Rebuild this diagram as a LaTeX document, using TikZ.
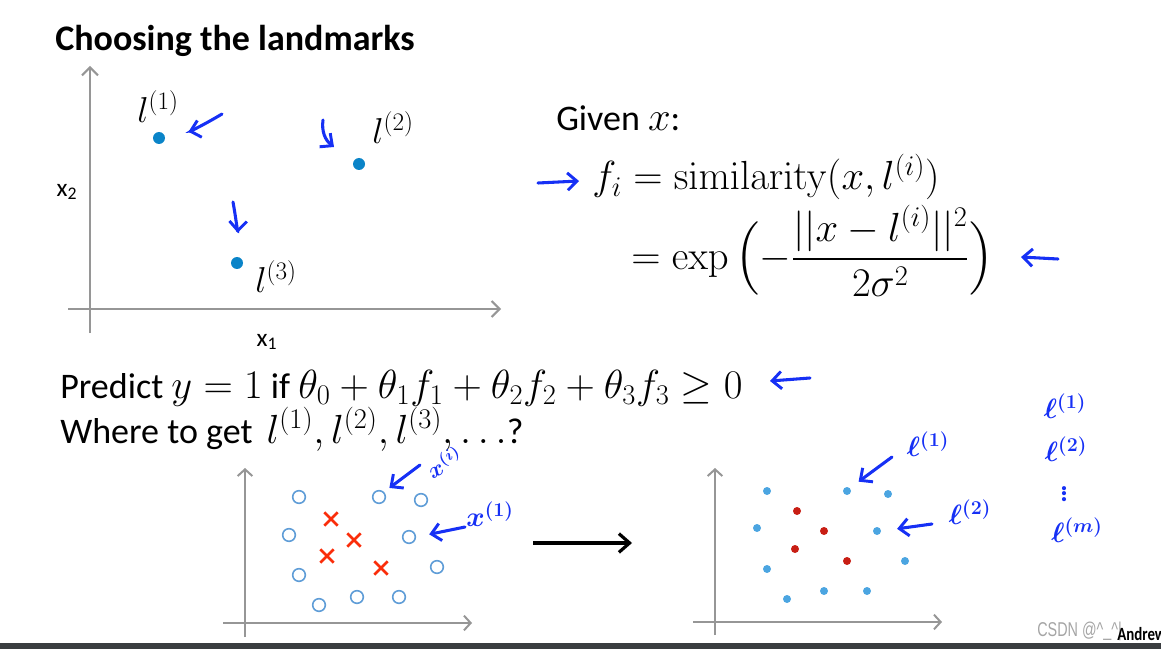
\RequirePackage{fix-cm}
\documentclass[tikz,border=0pt]{standalone}
\usepackage{amsmath, amssymb, bm}
\usepackage[no-math]{fontspec}
\setmainfont{Carlito}
\newfontfamily\wmfont{Liberation Sans}
\usetikzlibrary{arrows.meta, positioning, shapes.misc}
\definecolor{axisgray}{RGB}{150,150,150}
\definecolor{penblue}{RGB}{22,48,245}
\definecolor{markblue}{RGB}{10,132,200}
\definecolor{ringblue}{RGB}{95,157,215}
\definecolor{crossred}{RGB}{250,45,10}
\definecolor{dotblue}{RGB}{75,165,225}
\definecolor{dotred}{RGB}{200,30,20}
\definecolor{bargray}{RGB}{58,61,64}
\definecolor{wmgray}{RGB}{165,165,165}
\newcommand\bigmath[1]{{\fontsize{30.5}{36}\selectfont$#1$}}

\begin{document}
\begin{tikzpicture}[
    x=0.75pt, y=-0.75pt,
    axis/.style={draw=axisgray, line width=1.5pt, -{Straight Barb[length=6pt, width=12pt, line width=1.5pt]}},
    smallaxis/.style={axis, -{Straight Barb[length=5pt, width=11pt, line width=1.5pt]}},
    hand/.style={draw=penblue, line width=2.3pt, line cap=round, -{Straight Barb[length=7pt, width=13pt, line width=2.2pt]}},
    big/.style={font=\fontsize{27}{32}\selectfont, inner sep=0pt},
    ink/.style={text=penblue, font=\fontsize{21}{25}\selectfont\boldmath, inner sep=0pt},
    landmark/.style={circle, fill=markblue, minimum size=9pt, inner sep=0pt},
    ring/.style={circle, draw=ringblue, line width=1.2pt, minimum size=9.5pt, inner sep=0pt},
    xmark/.style={cross out, draw=crossred, line width=2pt, minimum size=8pt, inner sep=0pt},
    bdot/.style={circle, fill=dotblue, minimum size=6pt, inner sep=0pt},
    rdot/.style={circle, fill=dotred, minimum size=6pt, inner sep=0pt}
]
    \useasboundingbox (0,0) rectangle (1161,649);
    \fill[bargray] (0,643) rectangle (1161,649);

    % title
    \node[big, font=\fontsize{27}{32}\selectfont\bfseries, anchor=base west] (title) at (55,51) {Choosing the landmarks};

    % first plot
    \draw[axis] (90,333) -- (90,66);
    \draw[axis] (68,309) -- (501,309);
    \node[font=\fontsize{19}{22}\selectfont] (xtwo) at (67,192) {x\textsubscript{2}};
    \node[font=\fontsize{19}{22}\selectfont] (xone) at (267,342) {x\textsubscript{1}};

    \node[landmark] (m1) at (159,138) {};
    \node[landmark] (m2) at (359,164) {};
    \node[landmark] (m3) at (237,263) {};
    \node[font=\fontsize{27}{32}\selectfont] (lm1) at (158,107) {$l^{(1)}$};
    \node[font=\fontsize{27}{32}\selectfont] (lm2) at (393,128) {$l^{(2)}$};
    \node[font=\fontsize{27}{32}\selectfont] (lm3) at (276,277) {$l^{(3)}$};

    \coordinate (a1s) at (222,114);
    \coordinate (a2s) at (323,120);
    \coordinate (a2e) at (334,147);
    \coordinate (a3s) at (233,202);
    \draw[hand, shorten >=18pt] (a1s) to[bend left=8] (m1.east);
    \draw[hand] (a2s) to[bend right=30] (a2e);
    \draw[hand, shorten >=18pt] (a3s) to[bend left=6] (m3.north);

    % similarity
    \node[big, anchor=base west] (given) at (556,131) {Given \bigmath{x}:};
    \node[big, anchor=base west] (eqsim) at (592,190) {\bigmath{f_i = \mathrm{similarity}(x, l^{(i)})}};
    \node[big, anchor=base west] (eqexp) at (631,269) {\bigmath{\displaystyle = \exp\,\Bigl(-\frac{||x - l^{(i)}||^2}{2\sigma^2}\Bigr)}};
    \coordinate (b1s) at (538,183);
    \coordinate (b1e) at (579,181);
    \coordinate (b2s) at (1058,259);
    \coordinate (b2e) at (1021,257);
    \draw[hand] (b1s) -- (b1e);
    \draw[hand] (b2s) -- (b2e);

    % prediction
    \node[big, anchor=base west] (predict) at (60,398) {Predict \bigmath{y = 1} if \bigmath{\theta_0 + \theta_1 f_1 + \theta_2 f_2 + \theta_3 f_3 \geq 0}};
    \node[big, anchor=base west] (where) at (60,443) {Where to get \,\bigmath{l^{(1)}, l^{(2)}, l^{(3)}, \ldots}?};
    \coordinate (c1s) at (810,378);
    \coordinate (c1e) at (770,381);
    \draw[hand] (c1s) -- (c1e);

    % training examples
    \draw[smallaxis] (245,637) -- (245,468);
    \draw[smallaxis] (223,623) -- (472,623);
    \node[ring] (r1) at (299,497) {};
    \node[ring] (r2) at (379,497) {};
    \node[ring] (r3) at (421,500) {};
    \node[ring] (r4) at (289,535) {};
    \node[ring] (r5) at (409,537) {};
    \node[ring] (r6) at (299,575) {};
    \node[ring] (r7) at (437,567) {};
    \node[ring] (r8) at (319,605) {};
    \node[ring] (r9) at (357,597) {};
    \node[ring] (r10) at (399,597) {};
    \node[xmark] (k1) at (331,519) {};
    \node[xmark] (k2) at (354,540) {};
    \node[xmark] (k3) at (327,556) {};
    \node[xmark] (k4) at (381,568) {};

    \coordinate (d1s) at (420,465);
    \coordinate (d2s) at (465,527);
    \node[ink, font=\fontsize{17}{20}\selectfont\boldmath, rotate=28] (xi) at (444,462) {$\bm{x}^{(i)}$};
    \node[ink] (xfirst) at (490,514) {$\bm{x}^{(1)}$};
    \draw[hand, shorten >=5pt] (d1s) -- (r2.north east);
    \draw[hand, shorten >=10pt] (d2s) -- (r5.east);

    \draw[-{Straight Barb[length=8pt, width=14pt, line width=2.4pt]}, line width=2.6pt] (533,543) -- (632,543);

    % landmarks
    \draw[smallaxis] (715,635) -- (715,468);
    \draw[smallaxis] (693,622) -- (942,622);
    \node[bdot] (q1) at (767,491) {};
    \node[bdot] (q2) at (847,491) {};
    \node[bdot] (q3) at (888,494) {};
    \node[bdot] (q4) at (757,528) {};
    \node[bdot] (q5) at (877,531) {};
    \node[bdot] (q6) at (767,569) {};
    \node[bdot] (q7) at (905,561) {};
    \node[bdot] (q8) at (787,599) {};
    \node[bdot] (q9) at (824,591) {};
    \node[bdot] (q10) at (867,591) {};
    \node[rdot] (p1) at (797,511) {};
    \node[rdot] (p2) at (824,531) {};
    \node[rdot] (p3) at (795,549) {};
    \node[rdot] (p4) at (847,561) {};

    \coordinate (e1s) at (892,457);
    \coordinate (e2s) at (932,524);
    \node[ink] (lfirst) at (928,444) {$\bm{\ell}^{(1)}$};
    \node[ink] (lsecond) at (970,512) {$\bm{\ell}^{(2)}$};
    \draw[hand, shorten >=8pt] (e1s) -- (q2.north east);
    \draw[hand, shorten >=12pt] (e2s) -- (q5.east);

    \node[ink] (list1) at (1065,406) {$\bm{\ell}^{(1)}$};
    \node[ink] (list2) at (1066,449) {$\bm{\ell}^{(2)}$};
    \node[ink] (listdots) at (1064,490) {$\bm{\vdots}$};
    \node[ink] (listm) at (1077,530) {$\bm{\ell}^{(m)}$};

    % watermark
    \node[anchor=base west, text=wmgray, font=\wmfont\fontsize{15}{18}\selectfont, inner sep=0pt] (wm) at (1037,636) {\scalebox{0.72}[1]{CSDN @\^{}\_\^{}|}};
    \node[anchor=base west, font=\fontsize{14}{16}\selectfont\bfseries, inner sep=0pt] (author) at (1117,640) {\scalebox{0.8}[1]{Andrew}};
\end{tikzpicture}
\end{document}
